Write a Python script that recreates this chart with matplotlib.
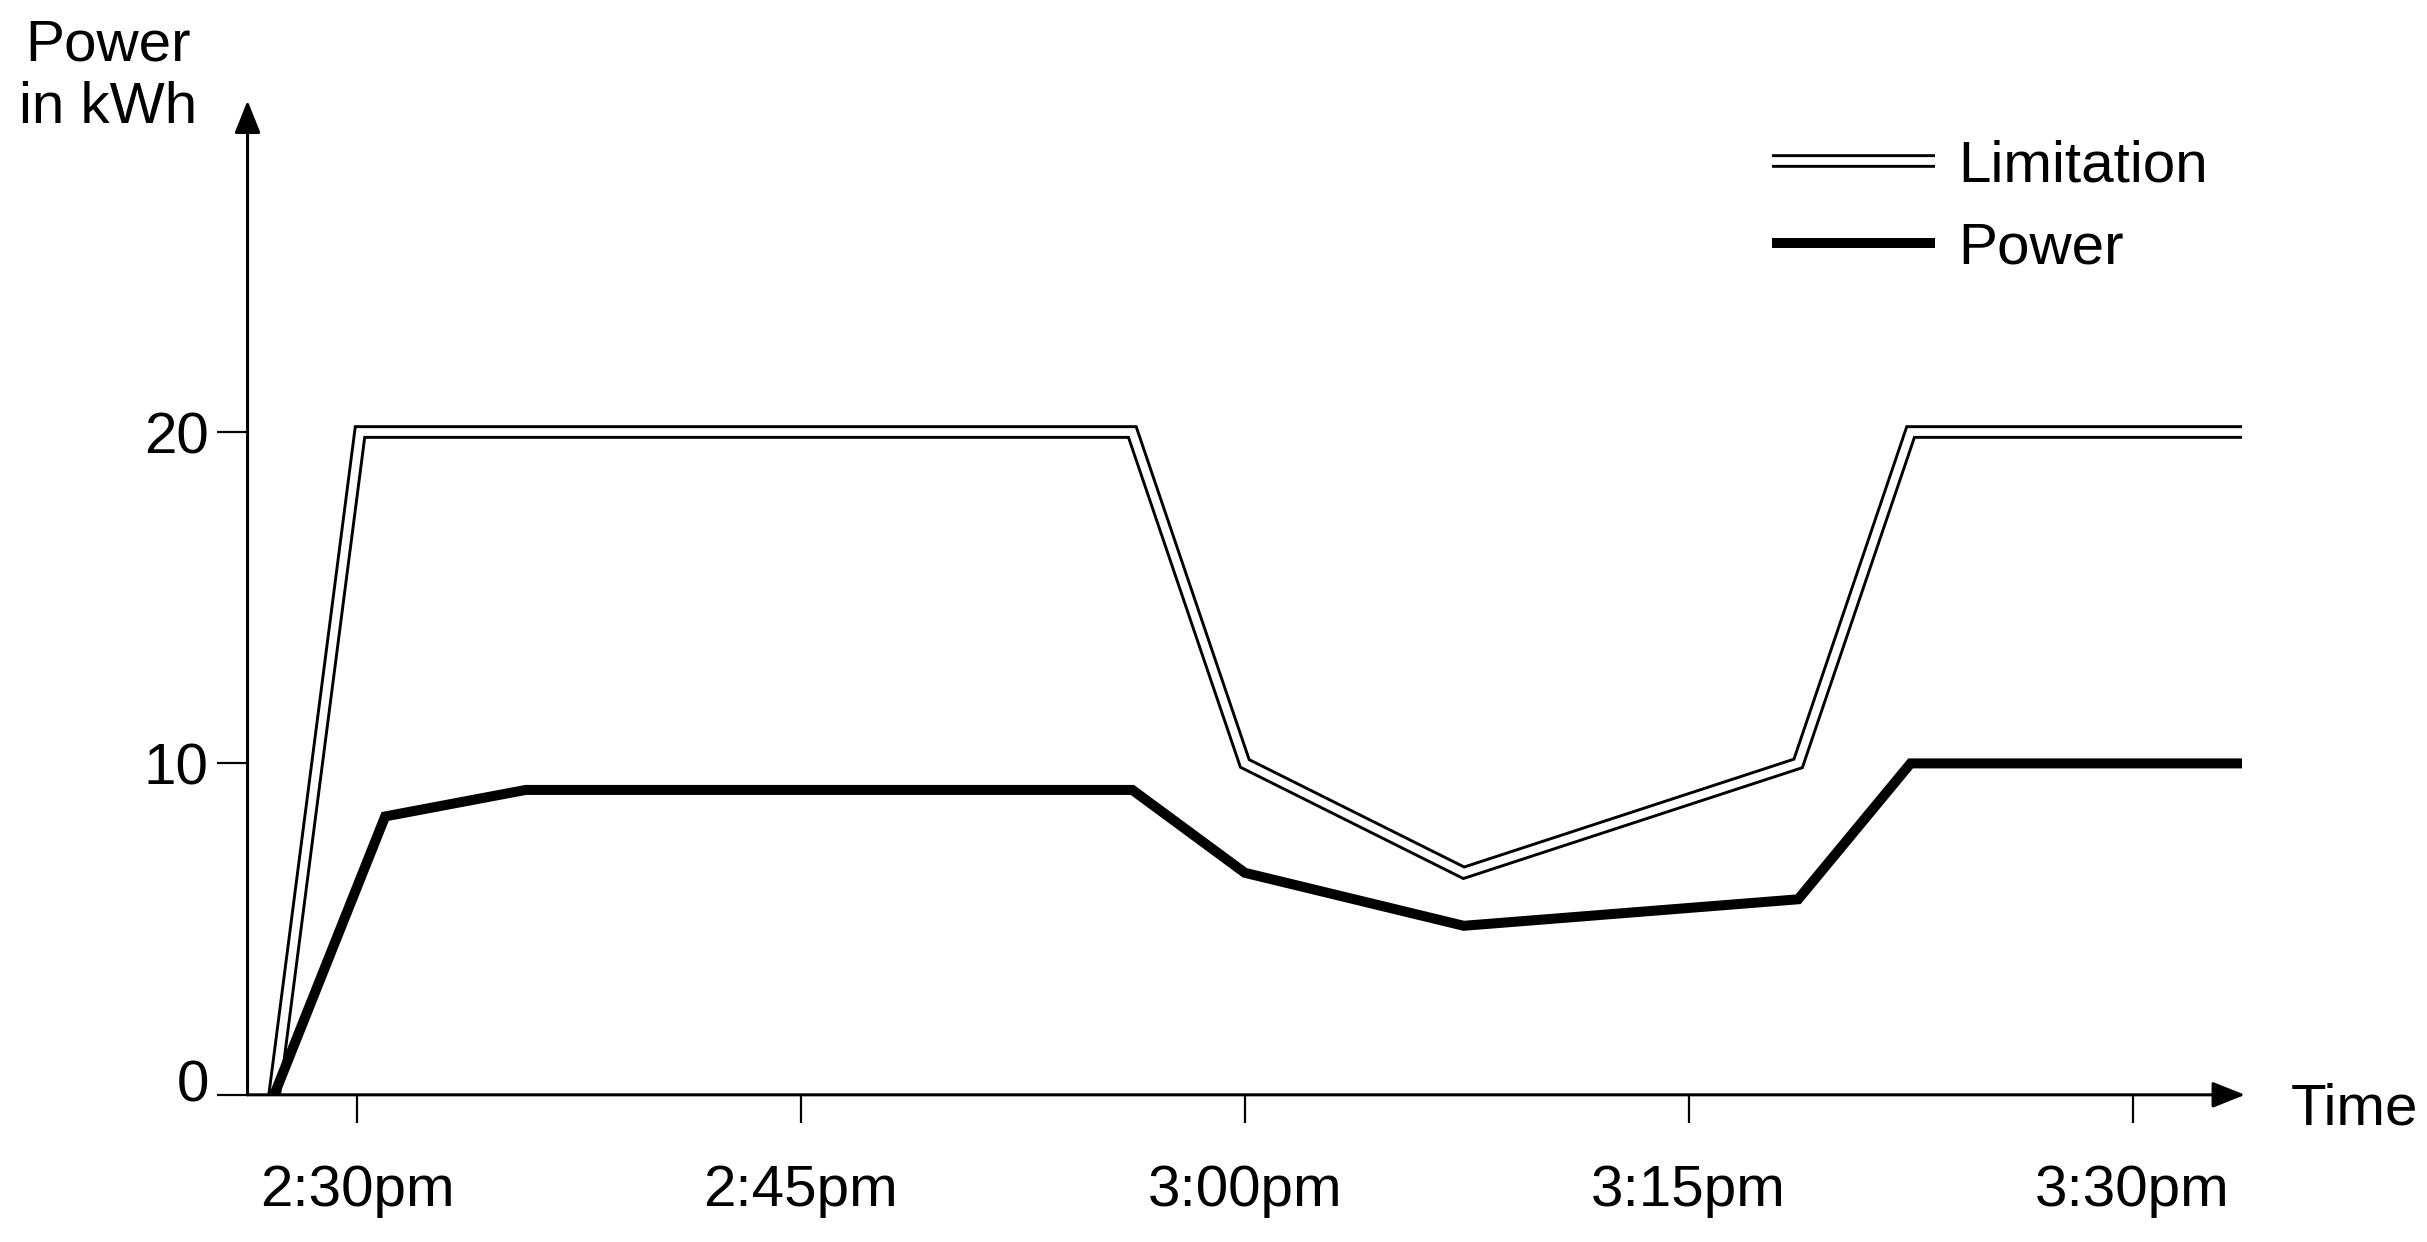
import matplotlib
matplotlib.use("Agg")
import matplotlib.pyplot as plt
import matplotlib.patheffects as pe
from matplotlib.transforms import ScaledTranslation

plt.rcParams['font.family'] = ['Liberation Sans', 'DejaVu Sans']

# minutes after 2:30pm
lim_t = [-2.8, 0.1, 26.2, 30.0, 37.4, 48.7, 52.5, 63.7]
lim_v = [0, 20, 20, 10, 6.7, 10, 20, 20]

pow_t = [-2.8, 0.95, 5.7, 26.2, 30.0, 37.4, 48.7, 52.5, 63.7]
pow_v = [0, 8.4, 9.2, 9.2, 6.7, 5.1, 5.9, 10, 10]

tick_pos = [0, 15, 30, 45, 60]
tick_lab = ['2:30pm', '2:45pm', '3:00pm', '3:15pm', '3:30pm']
y_ticks = [0, 10, 20]

fs = 42

fig = plt.figure(figsize=(24.27, 12.42), dpi=100)
ax = fig.add_axes([0.102, 0.1185, 0.823, 0.8005])

# double line: white core with black outline
ax.plot(lim_t, lim_v, color='white', lw=5.6, solid_joinstyle='miter',
        solid_capstyle='butt', zorder=2, label='Limitation',
        path_effects=[pe.Stroke(linewidth=9.8, foreground='black'), pe.Normal()])
ax.plot(pow_t, pow_v, color='black', lw=7.2, solid_joinstyle='miter',
        solid_capstyle='butt', zorder=4, label='Power')

ax.set_xlim(-3.7, 63.8)
ax.set_ylim(0, 30)

for s in ax.spines.values():
    s.set_visible(False)

# axes with arrow heads
arrow = dict(arrowstyle='-|>,head_length=0.5,head_width=0.2', color='black', lw=2.2,
             mutation_scale=40, shrinkA=0, shrinkB=0)
ax.annotate('', xy=(1, 0), xytext=(0, 0), xycoords='axes fraction', arrowprops=arrow)
ax.annotate('', xy=(0, 1), xytext=(0, 0), xycoords='axes fraction', arrowprops=arrow)

ax.set_xticks(tick_pos)
ax.set_xticklabels(tick_lab)
ax.set_yticks(y_ticks)
ax.tick_params(axis='x', direction='out', length=20, width=1.6, pad=30, labelsize=fs)
ax.tick_params(axis='y', direction='out', length=22, width=1.6, pad=6, labelsize=fs)

# lift the "0" label slightly off the x axis
zero = ax.get_yticklabels()[0]
zero.set_transform(zero.get_transform() + ScaledTranslation(0, 10 / 72, fig.dpi_scale_trans))

fig.text(0.0446, 0.985, 'Power\nin kWh', ha='center', va='top', fontsize=fs)
fig.text(0.944, 0.107, 'Time', ha='left', va='center', fontsize=fs)

ax.legend(loc='upper left', bbox_to_anchor=(0.730, 0.888),
          bbox_transform=fig.transFigure, frameon=False, fontsize=fs,
          handlelength=2.8, handletextpad=0.4, labelspacing=0.48,
          borderpad=0, borderaxespad=0)

fig.savefig('out.png', dpi=100)
